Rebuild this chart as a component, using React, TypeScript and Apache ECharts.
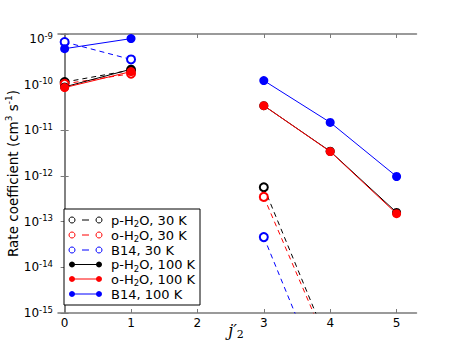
import React, { useEffect, useRef } from "react";
import * as echarts from "echarts";

const jValues = [0, 1, 2, 3, 4, 5];
const xTicks = [0, 1, 2, 3, 4, 5];
const pH2O30 = [1.15e-10, 2.1e-10, null, 5.7e-13, 1.7e-16, null];
const oH2O30 = [1.05e-10, 1.75e-10, null, 3.5e-13, 1.4e-16, null];
const b14_30 = [8.7e-10, 3.6e-10, null, 4.6e-14, 1.3e-17, null];
const pH2O100 = [0.9e-10, 2.2e-10, null, 3.5e-11, 3.5e-12, 1.6e-13];
const oH2O100 = [0.87e-10, 1.95e-10, null, 3.5e-11, 3.45e-12, 1.5e-13];
const b14_100 = [6.2e-10, 1.03e-9, null, 1.24e-10, 1.5e-11, 9.8e-13];

const legendLabels = [
  "p-H{sub|2}O, 30 K",
  "o-H{sub|2}O, 30 K",
  "B14, 30 K",
  "p-H{sub|2}O, 100 K",
  "o-H{sub|2}O, 100 K",
  "B14, 100 K",
];
const colors = ["#000000", "#ff0000", "#0000ff", "#000000", "#ff0000", "#0000ff"];
const seriesValues = [pH2O30, oH2O30, b14_30, pH2O100, oH2O100, b14_100];
const names = ["p-H2O, 30 K", "o-H2O, 30 K", "B14, 30 K", "p-H2O, 100 K", "o-H2O, 100 K", "B14, 100 K"];

const FONT = "DejaVu Sans";
const AXIS_COLOR = "#7a7a7a";

export default function App() {
  const ref = useRef<HTMLDivElement>(null);
  useEffect(() => {
    const chart = echarts.init(ref.current!, null, { renderer: "svg" });
    const series = seriesValues.map((vals, i) => {
      const open = i < 3;
      return {
        name: names[i],
        type: "line",
        data: jValues.map((x, k) => [x, vals[k] == null ? "-" : vals[k]]),
        connectNulls: false,
        symbol: open ? "emptyCircle" : "circle",
        symbolSize: open ? 8 : 9,
        showAllSymbol: true,
        lineStyle: { color: colors[i], width: 1, type: open ? [5, 4] : "solid" },
        itemStyle: { color: colors[i], borderColor: colors[i], borderWidth: open ? 1 : 0 },
        clip: true,
        z: 2 + i,
      };
    });

    const graphics: any[] = [
      {
        type: "rect",
        shape: { x: 64, y: 209, width: 136, height: 96 },
        style: { fill: "#fff", stroke: "#000", lineWidth: 1 },
        z: 100,
      },
      {
        type: "text",
        x: 236,
        y: 330,
        style: {
          text: "{j|j′}{s|2}",
          textAlign: "center",
          verticalAlign: "middle",
          fill: "#000",
          rich: {
            j: { fontSize: 16, fontStyle: "italic", fontFamily: "DejaVu Serif", lineHeight: 20, fill: "#000" },
            s: { fontSize: 11, fontFamily: "DejaVu Serif", verticalAlign: "bottom", lineHeight: 10, fill: "#000" },
          },
        },
        z: 100,
      },
    ];
    const rowY = [220, 235, 250, 264.5, 279, 294];
    rowY.forEach((y, i) => {
      const open = i < 3;
      graphics.push({
        type: "line",
        shape: open ? { x1: 82, y1: y, x2: 89, y2: y } : { x1: 72, y1: y, x2: 99, y2: y },
        style: { stroke: colors[i], lineWidth: 1 },
        z: 101,
      });
      [72, 99].forEach((cx) => {
        graphics.push({
          type: "circle",
          shape: { cx, cy: y, r: 3 },
          style: open
            ? { fill: "#fff", stroke: colors[i], lineWidth: 1 }
            : { fill: colors[i], stroke: colors[i], lineWidth: 0 },
          z: 102,
        });
      });
      graphics.push({
        type: "text",
        x: 111,
        y: y,
        style: {
          text: legendLabels[i],
          fontFamily: FONT,
          fontSize: 13,
          fill: "#000",
          verticalAlign: "middle",
          rich: {
            sub: { fontSize: 8.5, fontFamily: FONT, verticalAlign: "bottom", lineHeight: 8 },
          },
          lineHeight: 17,
        },
        z: 102,
      });
    });

    chart.setOption({
      animation: false,
      backgroundColor: "#fff",
      grid: { left: 58, top: 34, right: 46.5, bottom: 35, containLabel: false, outerBoundsMode: "none" },
      xAxis: [
        {
          type: "value",
          min: -0.1,
          max: 5.3,
          axisLine: { show: true, lineStyle: { color: AXIS_COLOR, width: 1.5 } },
          axisTick: { show: true, inside: true, length: 4, customValues: xTicks, lineStyle: { color: AXIS_COLOR } },
          axisLabel: { customValues: xTicks, fontFamily: FONT, fontSize: 12, color: "#000", margin: 4 },
          splitLine: { show: false },
        },
        {
          type: "value",
          position: "top",
          min: -0.1,
          max: 5.3,
          axisLine: { show: true, lineStyle: { color: AXIS_COLOR, width: 1.5 } },
          axisTick: { show: true, inside: true, length: 4, customValues: xTicks, lineStyle: { color: AXIS_COLOR } },
          axisLabel: { show: false },
          splitLine: { show: false },
        },
      ],
      yAxis: [
        {
          type: "log",
          logBase: 10,
          min: 1e-15,
          max: 1.3e-9,
          name: "Rate coefficient (cm{sup|3} s{sup|-1})",
          nameLocation: "middle",
          nameGap: 36,
          nameMoveOverlap: false,
          nameTextStyle: {
            fontFamily: FONT,
            fontSize: 13.5,
            color: "#000",
            lineHeight: 18,
            rich: { sup: { fontSize: 9, fontFamily: FONT, verticalAlign: "top", lineHeight: 9, color: "#000" } },
          },
          axisLine: { show: true, lineStyle: { color: AXIS_COLOR, width: 1.5 } },
          axisTick: { show: true, inside: true, length: 4, lineStyle: { color: AXIS_COLOR } },
          axisLabel: {
            margin: 5,
            color: "#000",
            formatter: (v: number) => {
              const l = Math.log10(v);
              const e = Math.round(l);
              if (Math.abs(l - e) > 0.01) return "";
              return `{b|10}{s|${e}}`;
            },
            rich: {
              b: { fontFamily: FONT, fontSize: 12, lineHeight: 16, color: "#000" },
              s: { fontFamily: FONT, fontSize: 8.5, verticalAlign: "top", lineHeight: 9, color: "#000" },
            },
          },
          splitLine: { show: false },
        },
        {
          type: "log",
          logBase: 10,
          position: "right",
          min: 1e-15,
          max: 1.3e-9,
          axisLine: { show: true, lineStyle: { color: AXIS_COLOR, width: 1.5 } },
          axisTick: { show: true, inside: true, length: 4, lineStyle: { color: AXIS_COLOR } },
          axisLabel: { show: false },
          splitLine: { show: false },
        },
      ],
      series,
      graphic: graphics,
    });
    return () => chart.dispose();
  }, []);
  return <div ref={ref} style={{ width: 463, height: 348, position: "absolute", left: 0, top: 0 }} />;
}
